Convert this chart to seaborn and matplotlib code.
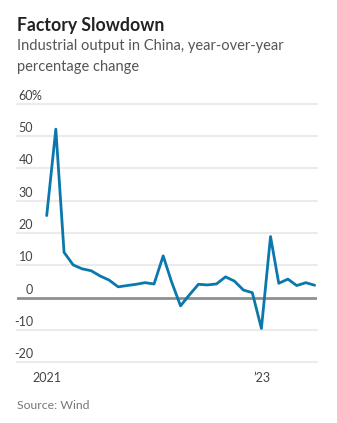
import matplotlib
matplotlib.use("Agg")
import matplotlib.pyplot as plt
import matplotlib.transforms as mtransforms
import seaborn as sns
import pandas as pd
import numpy as np

months = pd.date_range("2021-01-01", "2023-07-01", freq="MS")
values = [25.4, 52.2, 14.0, 10.1, 8.9, 8.3, 6.7, 5.4, 3.3, 3.7, 4.1, 4.6,
          4.2, 12.9, 5.0, -2.6, 0.8, 4.1, 3.9, 4.2, 6.4, 5.1, 2.3, 1.5,
          -9.6, 18.9, 4.4, 5.7, 3.7, 4.6, 3.8]
y_ticks = [-20, -10, 0, 10, 20, 30, 40, 50, 60]
y_labels = ["-20", "-10", "0", "10", "20", "30", "40", "50", "60"]
x_ticks = pd.to_datetime(["2021-01-01", "2022-01-01", "2023-01-01"])
x_labels = ["2021", "", "\u201923"]

df = pd.DataFrame({"month": months, "value": values})

sns.set_style("white")
plt.rcParams["font.family"] = ["Lato", "DejaVu Sans"]

W, H = 337, 423
fig = plt.figure(figsize=(W / 100, H / 100), dpi=100)
ax = fig.add_axes([17 / W, (H - 362) / H, 300 / W, 258 / H])

for yv in y_ticks:
    if yv == 0:
        continue
    ax.axhline(yv, color="#ebebeb", lw=1.5, zorder=0, clip_on=False)
ax.axhline(0, color="#8f8f8f", lw=2.0, zorder=1)

sns.lineplot(data=df, x="month", y="value", ax=ax, color="#0a78ad",
             lw=2.0, zorder=3)

ax.set_ylim(-20, 60)
ax.set_xlim(pd.Timestamp("2020-09-22"), pd.Timestamp("2023-07-09"))
for s in ax.spines.values():
    s.set_visible(False)
ax.set_xlabel("")
ax.set_ylabel("")
ax.set_yticks([])
ax.set_xticks(x_ticks)
ax.set_xticklabels(x_labels, fontsize=9, color="#444444")
ax.tick_params(axis="x", length=3, width=1, color="#333333", pad=4)

trans = ax.get_yaxis_transform() + mtransforms.ScaledTranslation(16 / 100, 2 / 100, fig.dpi_scale_trans)
for yv, lab in zip(y_ticks, y_labels):
    ax.text(0, yv, lab, transform=trans, ha="right", va="bottom",
            fontsize=9, color="#444444")
trans_pct = ax.get_yaxis_transform() + mtransforms.ScaledTranslation(15 / 100, 2 / 100, fig.dpi_scale_trans)
ax.text(0, 60, "%", transform=trans_pct, ha="left", va="bottom",
        fontsize=9, color="#444444")

fig.text(17 / W, 1 - 31 / H, "Factory Slowdown", fontsize=12.7,
         fontweight="bold", color="#222222", ha="left", va="baseline")
fig.text(17 / W, 1 - 50 / H, "Industrial output in China, year-over-year",
         fontsize=10.5, color="#555555", ha="left", va="baseline")
fig.text(17 / W, 1 - 71 / H, "percentage change",
         fontsize=10.5, color="#555555", ha="left", va="baseline")
fig.text(17 / W, 1 - 409 / H, "Source: Wind", fontsize=8.8,
         color="#777777", ha="left", va="baseline")

fig.savefig("out.png", dpi=100)
